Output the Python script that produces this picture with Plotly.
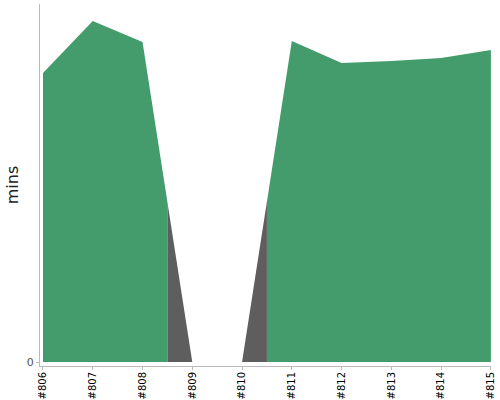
import plotly.graph_objects as go

# build durations (mins) for each build
builds = ["#806", "#807", "#808", "#809", "#810", "#811", "#812", "#813", "#814", "#815"]
durations = [28.9, 34.1, 32.0, 0, 0, 32.1, 29.9, 30.1, 30.4, 31.2]
positions = list(range(len(builds)))

GREEN = "#449c6d"
GREY = "#5e5e5e"
AXIS = "#bbbbbb"

fig = go.Figure()

# the same series is drawn in three x-axes; each axis only shows its own stretch
# so the colour switches half way between a passing and a failing build
pieces = [
    ("x", GREEN, [-0.06, 2.5], positions[0:3]),
    ("x2", GREY, [2.5, 4.5], positions[3:5]),
    ("x3", GREEN, [4.5, 9.002], positions[5:10]),
]

total = 9.062
edges = [0, 2.56 / total, 4.56 / total, 1]

for i, (ax, col, rng, ticks) in enumerate(pieces):
    fig.add_trace(go.Scatter(
        x=positions, y=durations,
        xaxis=ax, yaxis="y",
        mode="none", fill="tozeroy", fillcolor=col,
        hoverinfo="skip", showlegend=False,
    ))
    key = "xaxis" if i == 0 else "xaxis%d" % (i + 1)
    fig.layout[key] = dict(
        domain=[edges[i], edges[i + 1]],
        range=rng,
        anchor="y",
        automargin=False,
        tickmode="array",
        tickvals=ticks,
        ticktext=[builds[t] for t in ticks],
        tickangle=-90,
        ticks="outside",
        ticklen=3,
        ticklabelstandoff=-2,
        tickcolor=AXIS,
        showline=True,
        linecolor=AXIS,
        linewidth=1,
        showgrid=False,
        zeroline=False,
        fixedrange=True,
        tickfont=dict(family="DejaVu Sans", size=10, color="#000"),
    )

fig.update_layout(
    width=500, height=400,
    margin=dict(l=40, r=9, t=4, b=34),
    plot_bgcolor="white",
    paper_bgcolor="white",
    showlegend=False,
    yaxis=dict(
        range=[-0.4, 35.8],
        automargin=False,
        tickmode="array",
        tickvals=[0],
        ticktext=["0"],
        ticks="outside",
        ticklen=3,
        tickcolor=AXIS,
        showline=True,
        linecolor=AXIS,
        linewidth=1,
        showgrid=False,
        zeroline=False,
        fixedrange=True,
        anchor="x",
        tickfont=dict(family="DejaVu Sans", size=11, color="#555"),
        title=dict(text="mins", standoff=4,
                   font=dict(family="DejaVu Sans", size=16, color="#222")),
    ),
)

# page body has a default margin; drop it so the figure sits at the corner
fig.write_html("out.html",
               config={"displayModeBar": False},
               post_script="document.body.style.margin='0';"
                           "document.body.style.overflow='hidden';")
